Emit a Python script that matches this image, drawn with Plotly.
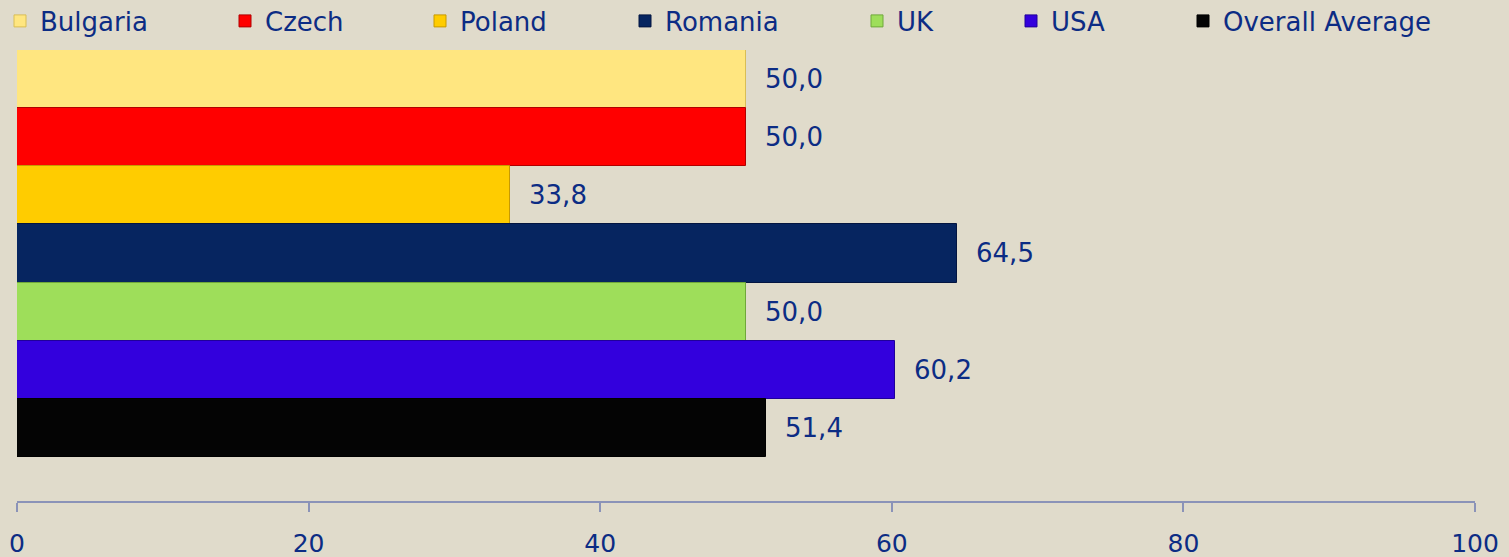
import plotly.graph_objects as go

series = ["Bulgaria", "Czech", "Poland", "Romania", "UK", "USA", "Overall Average"]
values = [50.0, 50.0, 33.8, 64.5, 50.0, 60.2, 51.4]
colors = ["#FFE680", "#FF0000", "#FFCC00", "#062560", "#9EDE5A", "#3300DD", "#040404"]
edges = ["#D9BE55", "#B00000", "#C89A00", "#031540", "#6FA83A", "#20009A", "#000000"]
x_ticks = [0, 20, 40, 60, 80, 100]

# legend text-start pixel positions in the reference
legend_text_px = [40, 265, 460, 665, 897, 1051, 1223]

W, H = 1509, 557
ML, MR, MT, MB = 17, 34, 50, 56
plot_w = W - ML - MR
plot_h = H - MT - MB
bars_bottom_px = 457
span = plot_h / (bars_bottom_px - MT)

TEXT = "#0C2C84"
FONT = "DejaVu Sans, Verdana, sans-serif"

fig = go.Figure()
for i, (name, v, c, e) in enumerate(zip(series, values, colors, edges)):
    lg = "legend" if i == 0 else f"legend{i+1}"
    fig.add_trace(go.Bar(
        x=[v], y=[0], orientation="h", name=name,
        marker=dict(color=c, line=dict(color=e, width=1)),
        text=[v], texttemplate="  %{x:.1f}", textposition="outside",
        textfont=dict(color=TEXT, size=26, family=FONT),
        cliponaxis=False, legend=lg, showlegend=True,
    ))

layout_legends = {}
for i, px in enumerate(legend_text_px):
    key = "legend" if i == 0 else f"legend{i+1}"
    layout_legends[key] = dict(
        x=(px - 40 - ML) / plot_w, xanchor="left",
        y=(H - MB - 21) / plot_h, yanchor="middle",
        bgcolor="rgba(0,0,0,0)", borderwidth=0,
        font=dict(color=TEXT, size=26, family=FONT),
        visible=True,
    )

fig.update_layout(
    width=W, height=H,
    margin=dict(l=ML, r=MR, t=MT, b=MB, autoexpand=False),
    paper_bgcolor="#E0DBCB", plot_bgcolor="#E0DBCB",
    barmode="group", bargap=0, bargroupgap=0,
    separators=",.",
    showlegend=True,
    font=dict(family=FONT, color=TEXT),
    xaxis=dict(
        range=[0, 100], tickvals=x_ticks, showgrid=False, zeroline=False,
        showline=True, linecolor="#8B93B8", linewidth=2,
        ticks="outside", ticklen=9, tickcolor="#8B93B8", tickwidth=2,
        tickfont=dict(size=25, color=TEXT, family=FONT),
        ticklabelstandoff=10,
    ),
    yaxis=dict(visible=False, range=[-0.5 + span, -0.5], fixedrange=True),
    **layout_legends,
)

fig.write_html("out.html")
